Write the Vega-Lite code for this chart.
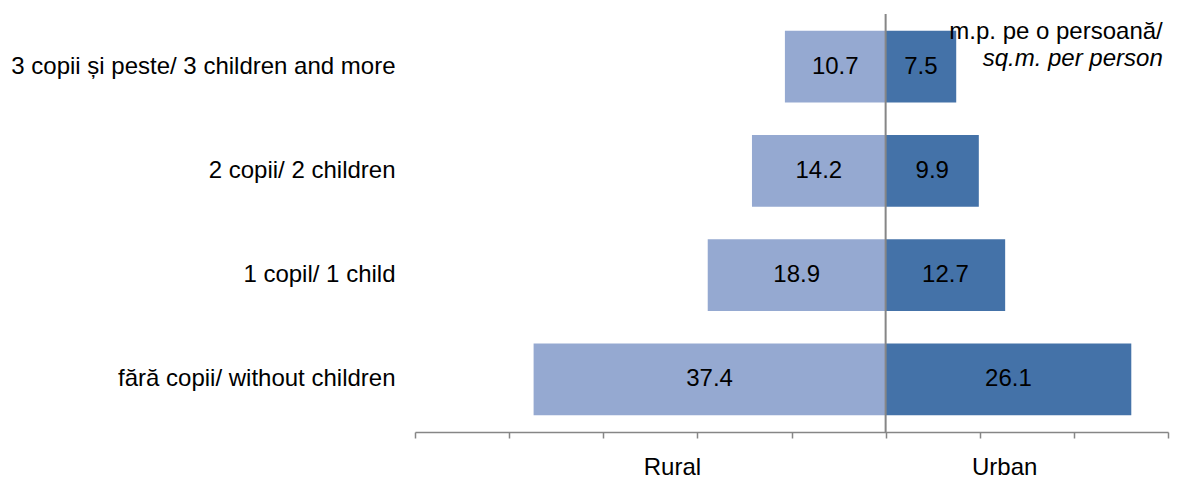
{
  "$schema": "https://vega.github.io/schema/vega-lite/v6.json",
  "autosize": "none",
  "width": 753,
  "height": 418,
  "padding": {"left": 415, "top": 14, "right": 12, "bottom": 49},
  "background": "white",
  "config": {"view": {"stroke": null}, "font": "Liberation Sans"},
  "title": {
    "text": "m.p. pe o persoană/",
    "subtitle": "sq.m. per person",
    "anchor": "end",
    "align": "right",
    "orient": "top",
    "offset": -58,
    "dx": -6,
    "fontSize": 24,
    "fontWeight": "normal",
    "color": "#000000",
    "subtitleFontSize": 24,
    "subtitleFontStyle": "italic",
    "subtitleColor": "#000000",
    "subtitlePadding": 3,
    "font": "Liberation Sans",
    "subtitleFont": "Liberation Sans"
  },
  "data": {
    "values": [
      {"cat": "3 copii și peste/ 3 children and more", "area": "Rural", "v": -10.7, "label": "10.7"},
      {"cat": "3 copii și peste/ 3 children and more", "area": "Urban", "v": 7.5, "label": "7.5"},
      {"cat": "2 copii/ 2 children", "area": "Rural", "v": -14.2, "label": "14.2"},
      {"cat": "2 copii/ 2 children", "area": "Urban", "v": 9.9, "label": "9.9"},
      {"cat": "1 copil/ 1 child", "area": "Rural", "v": -18.9, "label": "18.9"},
      {"cat": "1 copil/ 1 child", "area": "Urban", "v": 12.7, "label": "12.7"},
      {"cat": "fără copii/ without children", "area": "Rural", "v": -37.4, "label": "37.4"},
      {"cat": "fără copii/ without children", "area": "Urban", "v": 26.1, "label": "26.1"}
    ]
  },
  "encoding": {
    "y": {
      "field": "cat",
      "type": "nominal",
      "sort": null,
      "scale": {"paddingInner": 0.31, "paddingOuter": 0.16},
      "axis": {
        "title": null,
        "domain": false,
        "ticks": false,
        "labelFontSize": 24,
        "labelColor": "#000000",
        "labelPadding": 20,
        "labelLimit": 600
      }
    }
  },
  "layer": [
    {
      "mark": {"type": "bar"},
      "encoding": {
        "x": {
          "field": "v",
          "type": "quantitative",
          "scale": {"domain": [-50, 30], "nice": false, "zero": false},
          "axis": {
            "title": null,
            "grid": false,
            "values": [-50, -40, -30, -22.7, -20, -10, 0, 10, 12.6, 20, 30],
            "tickSize": 6,
            "tickWidth": 1.5,
            "tickColor": "#868686",
            "tickOpacity": {"condition": {"test": "datum.value == -22.7 || datum.value == 12.6", "value": 0}, "value": 1},
            "domainColor": "#868686",
            "domainWidth": 1.5,
            "labelExpr": "datum.value == -22.7 ? 'Rural' : (datum.value == 12.6 ? 'Urban' : '')",
            "labelFontSize": 24,
            "labelColor": "#000000",
            "labelPadding": 17,
            "labelOverlap": false,
            "labelFlush": false
          }
        },
        "color": {
          "field": "area",
          "type": "nominal",
          "scale": {"domain": ["Rural", "Urban"], "range": ["#95A9D1", "#4472A8"]},
          "legend": null
        }
      }
    },
    {
      "transform": [{"calculate": "datum.v / 2", "as": "mid"}],
      "mark": {"type": "text", "fontSize": 24, "color": "#000000", "font": "Liberation Sans"},
      "encoding": {
        "x": {"field": "mid", "type": "quantitative"},
        "text": {"field": "label"}
      }
    },
    {
      "data": {"values": [{"zero": 0}]},
      "mark": {"type": "rule", "color": "#868686", "strokeWidth": 2},
      "encoding": {"x": {"field": "zero", "type": "quantitative"}, "y": null}
    }
  ]
}
